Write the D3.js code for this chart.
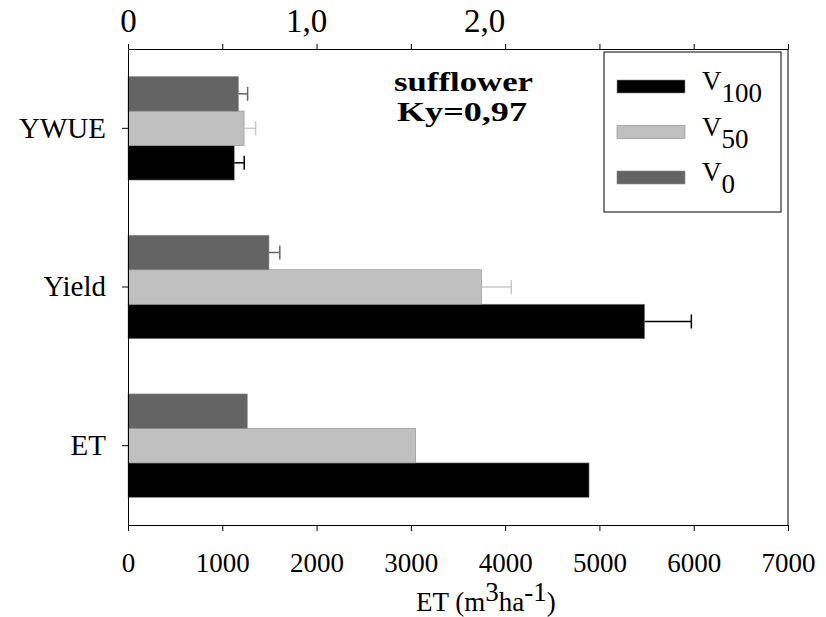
<!DOCTYPE html>
<html>
<head>
<meta charset="utf-8">
<script src="https://cdn.jsdelivr.net/npm/d3@7"></script>
<style>
  body { margin: 0; background: #fff; }
  text { font-family: "Liberation Serif", "Times New Roman", serif; fill: #000; }
</style>
</head>
<body>
<div id="chart"></div>
<script>
// categories top to bottom; YWUE is read on the top axis, Yield and ET on the bottom axis
const categories = ["YWUE", "Yield", "ET"];
const seriesNames = ["V100", "V50", "V0"];
const v100 = [0.597, 5480, 4890];
const v50 = [0.652, 3750, 3050];
const v0 = [0.620, 1495, 1265];
const err100 = [0.056, 495, 0];
const err50 = [0.065, 315, 0];
const err0 = [0.052, 115, 0];
const bottomTicks = [0, 1000, 2000, 3000, 4000, 5000, 6000, 7000];
const topTicks = [0, 1, 2];

const colors = {V100: "#000000", V50: "#c0c0c0", V0: "#646464"};
const errColors = {V100: "#000000", V50: "#c8c8c8", V0: "#666666"};
const values = {V100: v100, V50: v50, V0: v0};
const errors = {V100: err100, V50: err50, V0: err0};

const width = 826, height = 617;
const mLeft = 128, mRight = 788, mTop = 49, mBottom = 525;

const svg = d3.select("#chart").append("svg")
    .attr("width", width)
    .attr("height", height)
    .attr("font-family", "Liberation Serif");

const x = d3.scaleLinear().domain([0, 7000]).range([mLeft, mRight]);
const xTop = d3.scaleLinear().domain([0, (mRight - mLeft) / 178]).range([mLeft, mRight]);

const y = d3.scaleBand().domain(categories).range([mTop, mBottom])
    .paddingInner(0.348).paddingOuter(0.174);
const yInner = d3.scaleBand().domain(["V0", "V50", "V100"]).range([0, y.bandwidth()]);

function scaleFor(i) { return categories[i] === "YWUE" ? xTop : x; }

const data = [];
categories.forEach(function(c, i) {
    seriesNames.forEach(function(s) {
        data.push({cat: c, idx: i, s: s, v: values[s][i], e: errors[s][i]});
    });
});

// bars
svg.append("g").selectAll("rect")
    .data(data)
    .enter()
    .append("rect")
    .attr("x", mLeft)
    .attr("y", function(d) { return y(d.cat) + yInner(d.s); })
    .attr("width", function(d) { return scaleFor(d.idx)(d.v) - mLeft; })
    .attr("height", yInner.bandwidth())
    .attr("fill", function(d) { return colors[d.s]; })
    .attr("stroke", "#8a8a8a")
    .attr("stroke-width", 0.6);

// error bars (one sided)
const errs = svg.append("g").selectAll("g")
    .data(data.filter(function(d) { return d.e > 0; }))
    .enter()
    .append("g")
    .attr("stroke", function(d) { return errColors[d.s]; })
    .attr("stroke-width", 1.5);

function midY(d) { return y(d.cat) + yInner(d.s) + yInner.bandwidth() / 2; }

errs.append("line")
    .attr("x1", function(d) { return scaleFor(d.idx)(d.v); })
    .attr("x2", function(d) { return scaleFor(d.idx)(d.v + d.e); })
    .attr("y1", midY)
    .attr("y2", midY);

errs.append("line")
    .attr("x1", function(d) { return scaleFor(d.idx)(d.v + d.e); })
    .attr("x2", function(d) { return scaleFor(d.idx)(d.v + d.e); })
    .attr("y1", function(d) { return midY(d) - 7; })
    .attr("y2", function(d) { return midY(d) + 7; });

// bottom axis
const xAxis = svg.append("g")
    .attr("transform", "translate(0," + mBottom + ")")
    .call(d3.axisBottom(x).tickValues(bottomTicks).tickSize(6).tickSizeOuter(0)
        .tickPadding(22).tickFormat(d3.format("d")));
xAxis.selectAll("text").attr("font-size", 27);

// top frame with ticks
svg.append("g")
    .attr("transform", "translate(0," + mTop + ")")
    .call(d3.axisTop(x).tickValues(bottomTicks).tickSize(5).tickSizeOuter(0).tickFormat(""));

// top axis labels (YWUE scale)
const topAxis = svg.append("g")
    .attr("transform", "translate(0," + mTop + ")")
    .call(d3.axisTop(xTop).tickValues(topTicks).tickSize(0)
        .tickFormat(function(d) { return d === 0 ? "0" : d.toFixed(1).replace(".", ","); }));
topAxis.select(".domain").remove();
topAxis.selectAll("text").attr("font-size", 33).attr("y", -17).attr("dy", 0);

// left axis
const yAxis = svg.append("g")
    .attr("transform", "translate(" + mLeft + ",0)")
    .call(d3.axisLeft(y).tickSize(6).tickSizeOuter(0).tickPadding(16));
yAxis.selectAll("text").attr("font-size", 29);

svg.selectAll("g").attr("font-family", "Liberation Serif");

// right border
svg.append("line")
    .attr("x1", mRight).attr("x2", mRight)
    .attr("y1", mTop).attr("y2", mBottom)
    .attr("stroke", "#000");

svg.selectAll(".domain").attr("stroke", "#000");
svg.selectAll(".tick line").attr("stroke", "#000");

// x axis title
const xt = svg.append("text")
    .attr("x", 416)
    .attr("y", 611)
    .attr("font-size", 27);
xt.append("tspan").text("ET (m");
xt.append("tspan").attr("dy", -10).text("3");
xt.append("tspan").attr("dy", 10).text("ha");
xt.append("tspan").attr("dy", -10).text("-1");
xt.append("tspan").attr("dy", 10).text(")");

// title
svg.append("text")
    .attr("x", 394).attr("y", 91)
    .attr("font-size", 28)
    .attr("font-weight", "bold")
    .attr("textLength", 139)
    .attr("lengthAdjust", "spacingAndGlyphs")
    .text("sufflower");
svg.append("text")
    .attr("x", 397).attr("y", 121)
    .attr("font-size", 28)
    .attr("font-weight", "bold")
    .attr("textLength", 130)
    .attr("lengthAdjust", "spacingAndGlyphs")
    .text("Ky=0,97");

// legend
const legend = svg.append("g");
legend.append("rect")
    .attr("x", 604).attr("y", 52)
    .attr("width", 177).attr("height", 160)
    .attr("fill", "#fff")
    .attr("stroke", "#000");

const legendRows = legend.selectAll("g.row")
    .data(seriesNames)
    .enter()
    .append("g")
    .attr("class", "row")
    .attr("transform", function(d, i) { return "translate(0," + (i * 45.5) + ")"; });

legendRows.append("rect")
    .attr("x", 617).attr("y", 80)
    .attr("width", 68).attr("height", 13)
    .attr("fill", function(d) { return colors[d]; })
    .attr("stroke", "#8a8a8a")
    .attr("stroke-width", 0.6);

const lt = legendRows.append("text")
    .attr("x", 702).attr("y", 90)
    .attr("font-size", 27);
lt.append("tspan").text("V");
lt.append("tspan").attr("dy", 12).text(function(d) { return d.slice(1); });
</script>
</body>
</html>
